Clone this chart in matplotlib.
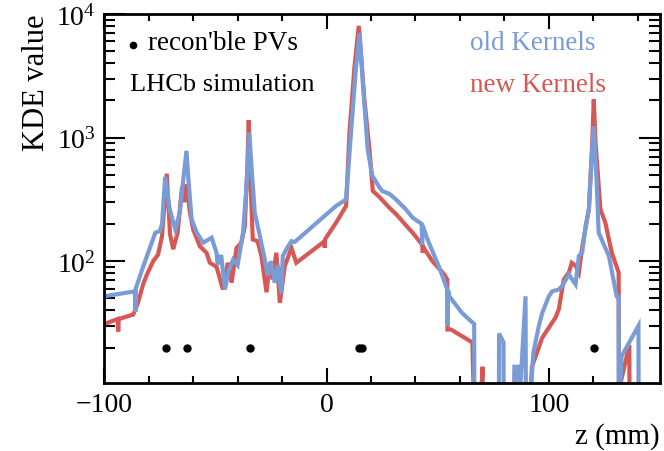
import matplotlib
matplotlib.use("Agg")
import matplotlib.pyplot as plt
from matplotlib.ticker import MultipleLocator, LogLocator, NullFormatter

plt.rcParams['font.family'] = 'Liberation Serif'
plt.rcParams['mathtext.fontset'] = 'custom'
plt.rcParams['mathtext.rm'] = 'Liberation Serif'
plt.rcParams['mathtext.it'] = 'Liberation Serif:italic'

# reconstructible primary vertices (z in mm)
pv_z = [-72.2, -62.6, -34.5, 14.6, 16.0, 120.2]
pv_kde = [20, 20, 20, 20, 20, 20]

# old kernels KDE (values < 10 fall below the axis)
old_z = [-100, -86.2, -86.0, -85.8, -83, -80.8, -77, -75, -74, -72.6, -70.5, -68, -66,
         -64.5, -63, -62.3, -60.7, -58.4, -55.5, -53, -51.7, -49.5, -49, -47.4, -45.7,
         -44, -42, -40, -37.6, -36, -34.8, -33.5, -32.3, -30, -27.8, -26.4, -25, -23.3,
         -21.9, -20.3, -19.7, -17.5, -15.8, -14.3, 4.3, 8.8, 11, 13.3, 14.9, 16.3, 18.5,
         20.6, 23.8, 25, 28.3, 31.2, 35.7, 38.7, 42.8, 43.0, 43.2, 45.4, 50.7, 54.3, 54.5,
         54.7, 55.2, 61, 66.4, 66.5, 77.5, 77.6, 79.6, 79.7, 84.3, 84.5, 86, 86.1, 86.3,
         89.5, 89.7, 91, 93, 95.5, 97, 100, 101.5, 104.5, 106, 109, 112, 113.5, 115, 116.5,
         118, 119.5, 120.2, 121.5, 122.4, 127, 130.5, 131.4, 131.5, 132.7, 140.3, 140.4, 150]
old_kde = [52, 57, 39, 60, 85, 110, 170, 175, 200, 480, 260, 180, 250,
           450, 780, 500, 218, 170, 141, 150, 155, 117, 94, 112, 59,
           85, 103, 93, 170, 400, 1100, 500, 247, 160, 103, 76, 100, 67,
           93, 54, 110, 130, 145, 143, 280, 316, 1100, 3800, 7000, 2800, 800,
           490, 395, 370, 350, 316, 262, 225, 200, 136, 195, 150, 89, 59, 30,
           58, 52, 38, 31, 5, 5, 26, 22, 5, 5, 14, 14, 5, 5,
           52, 5, 5, 18, 30, 38, 52, 57, 59, 63, 78, 65, 110, 117, 190,
           263, 800, 1230, 435, 170, 110, 52, 51, 5, 17, 30, 5, 5]

# new kernels KDE
new_z = [-100, -94, -93.7, -93.5, -87, -85, -82.5, -80.8, -78, -75.8, -74, -71.9, -70.4,
         -69, -67, -65, -64, -63, -61.5, -60, -57, -54, -52.5, -49.5, -46.6, -44.4, -42.7,
         -40.5, -38.3, -36.8, -35.6, -35.0, -34.3, -33.2, -31, -29.3, -27, -25.6, -24.2,
         -22.6, -21, -18.8, -15.8, -13.6, -0.9, -0.8, -0.7, 4.3, 8.8, 10.3, 12.6, 14.5, 17,
         19.3, 20.8, 23.8, 28.3, 31.3, 37.2, 38.7, 43, 43.3, 43.5, 47.6, 53, 54.3, 54.4, 56,
         65.6, 66.5, 68.8, 70.2, 70.3, 84, 84.8, 85, 91, 92.4, 97, 103, 104.5, 106.7, 109,
         110.3, 112, 113.5, 115, 118, 119.5, 120.2, 121, 123.2, 125.4, 128.3, 131.4, 131.5,
         136.2, 136.3, 150]
new_kde = [31, 34, 27, 34, 37, 45, 65, 78, 100, 113, 160, 510, 165,
           125, 170, 400, 300, 420, 250, 180, 132, 117, 97, 90, 59, 97, 67,
           128, 141, 190, 600, 1380, 500, 150, 145, 110, 56, 97, 71,
           117, 46, 91, 128, 97, 145, 128, 150, 205, 280, 1100, 3800, 8000, 2040,
           800, 370, 330, 270, 240, 182, 170, 136, 117, 130, 100, 78, 71, 28, 28,
           22, 5, 5, 14, 5, 5, 14, 5, 5, 14, 24, 35, 41, 71, 81,
           97, 92, 81, 130, 263, 900, 2040, 900, 263, 205, 117, 81, 9,
           21, 5, 5]

blue = '#7a9cd6'
red = '#d65854'

fig = plt.figure(figsize=(6.64, 4.52), dpi=100)
ax = fig.add_axes([0.157, 0.150, 0.837, 0.817])

ax.plot(new_z, new_kde, color=red, lw=3.0, solid_joinstyle='miter')
ax.plot(old_z, old_kde, color=blue, lw=3.0, solid_joinstyle='miter')
ax.plot(pv_z, pv_kde, 'o', color='black', ms=5)

ax.set_yscale('log')
ax.set_xlim(-100, 150)
ax.set_ylim(10.3, 1e4)

ax.xaxis.set_major_locator(MultipleLocator(100))
ax.xaxis.set_minor_locator(MultipleLocator(20))
ax.yaxis.set_major_locator(LogLocator(base=10))
ax.yaxis.set_minor_locator(LogLocator(base=10, subs=range(2, 10)))
ax.yaxis.set_minor_formatter(NullFormatter())

ax.tick_params(which='both', direction='in', top=True, right=True, labelsize=20, width=1.5)
ax.tick_params(axis='y', which='major', length=15, pad=6)
ax.tick_params(axis='y', which='minor', length=8)
ax.tick_params(axis='x', which='major', length=11, pad=6)
ax.tick_params(axis='x', which='minor', length=5)
for s in ax.spines.values():
    s.set_linewidth(2)

ax.set_xlabel('z (mm)', fontsize=21, loc='right')
ax.set_ylabel('KDE value', fontsize=22, loc='top')

# legend-like annotations
ax.plot([0.052], [0.916], 'o', color='black', ms=4.5, transform=ax.transAxes)
ax.text(0.079, 0.922, "recon'ble PVs", fontsize=19.5, va='center', transform=ax.transAxes)
ax.text(0.047, 0.81, 'LHCb simulation', fontsize=19, va='center', transform=ax.transAxes)
ax.text(0.658, 0.922, 'old Kernels', fontsize=19.5, color=blue, va='center', transform=ax.transAxes)
ax.text(0.658, 0.81, 'new Kernels', fontsize=19.5, color=red, va='center', transform=ax.transAxes)

fig.savefig('out.png', dpi=100)
